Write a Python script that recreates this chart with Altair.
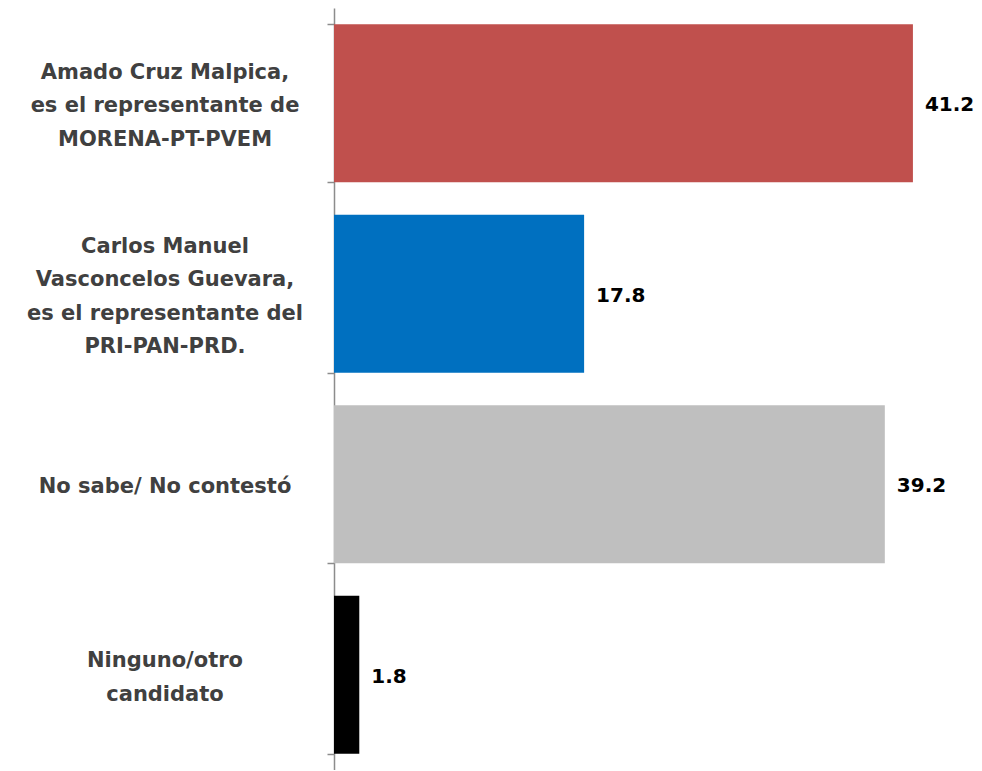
import altair as alt
import pandas as pd

categories = [
    "Amado Cruz Malpica,|es el representante de|MORENA-PT-PVEM",
    "Carlos Manuel|Vasconcelos Guevara,|es el representante del|PRI-PAN-PRD.",
    "No sabe/ No contestó",
    "Ninguno/otro|candidato",
]
values = [41.2, 17.8, 39.2, 1.8]
colors = ["#C0504D", "#0070C0", "#BFBFBF", "#000000"]

LINE_H = 33.5
df = pd.DataFrame({"cat": categories, "val": values, "color": colors})
df["lines"] = [c.split("|") for c in categories]
df["n"] = [len(c.split("|")) for c in categories]

FONT = "DejaVu Sans"

y_enc = alt.Y(
    "cat:N",
    sort=categories,
    title=None,
    scale=alt.Scale(paddingInner=0.17, paddingOuter=0.085),
    axis=alt.Axis(
        labels=False,
        tickBand="extent",
        tickSize=7,
        tickColor="#8C8C8C",
        tickWidth=1.5,
        domainColor="#8C8C8C",
        domainWidth=1.5,
        grid=False,
    ),
)

x_enc = alt.X("val:Q", scale=alt.Scale(domain=[0, 42.7], nice=False, zero=True), axis=None)

base = alt.Chart(df)

bars = base.mark_bar().encode(
    y=y_enc,
    x=x_enc,
    color=alt.Color("color:N", scale=None),
)

text = base.mark_text(
    align="left", baseline="middle", dx=12, dy=2, font=FONT, fontWeight="bold",
    fontSize=20, color="#000000"
).encode(
    y=alt.Y("cat:N", sort=categories),
    x=alt.X("val:Q"),
    text=alt.Text("val:Q", format=".1f"),
)

layers = [bars, text]
for n in sorted(set(df["n"])):
    layers.append(
        base.transform_filter(f"datum.n == {n}").mark_text(
            align="center", baseline="middle", font=FONT, fontWeight="bold",
            fontSize=21, lineHeight=LINE_H, color="#404040",
            dy=-(n - 1) * LINE_H / 2 + 3,
        ).encode(
            y=alt.Y("cat:N", sort=categories),
            x=alt.value(-169),
            text="lines",
        )
    )

chart = alt.layer(*layers).properties(
    width=600,
    height=762,
    autosize=alt.AutoSizeParams(type="none"),
    padding={"left": 326, "top": 0, "right": 40, "bottom": 0},
).configure_view(stroke=None)

chart.save("out.html", embed_options={"renderer": "svg", "actions": False})
